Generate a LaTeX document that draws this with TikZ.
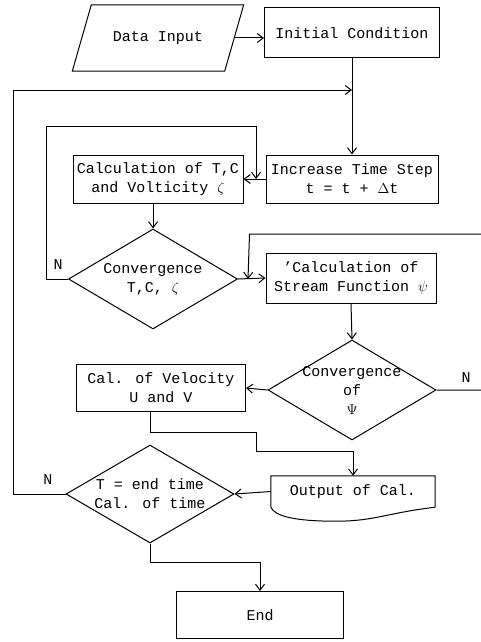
\documentclass[tikz,border=0pt]{standalone}
\usepackage{fontspec}
\setmainfont{Liberation Mono}
\usetikzlibrary{shapes.geometric,arrows.meta}
\tikzset{
    flow/.style={line width=1pt},
    arr/.style={flow, -{Straight Barb[length=6pt,width=9pt]}},
    box/.style={draw, flow, rectangle, align=center, inner sep=0pt,
        minimum width=#1, minimum height=48pt},
    box/.default=170pt,
    dia/.style={draw, flow, diamond, inner sep=0pt,
        minimum width=168pt, minimum height=#1},
    dia/.default=100pt,
}

\begin{document}
\begin{tikzpicture}[x=1pt, y=-1pt, font=\fontsize{15}{19}\selectfont]
    \useasboundingbox (0,0) rectangle (481,642);

    % input and start
    \node[rectangle, minimum width=171pt, minimum height=66pt, inner sep=0pt] (dat) at (158,38) {Data Input};
    \draw[flow] (dat.south west) -- ([xshift=19pt]dat.north west) -- (dat.north east)
        -- ([xshift=-19pt]dat.south east) -- cycle;
    \node[box=175pt, minimum height=50pt] (ic) at (352,33) {Initial Condition};
    \node[box=172pt] (its) at (352,179) {Increase Time Step\\t = t + $\Delta$t};
    \node[box] (calc) at (158,179) {Calculation of T,C\\and Volticity $\zeta$};

    % convergence of T,C and zeta
    \node[dia=100pt, minimum width=169pt,
        label={[align=center]center:Convergence\\T,C, $\zeta$}] (d1) at (153,279) {};
    \node[box, minimum height=50pt] (sf) at (351,278) {'Calculation of\\Stream Function $\psi$};

    % convergence of psi
    \node[dia, label={[align=center]center:Convergence\\of\\$\Psi$}] (d2) at (352,390) {};
    \node[box=169pt, minimum height=47pt] (vel) at (161,388) {Cal. of Velocity\\U and V};

    % output
    \node[rectangle, minimum width=164pt, minimum height=31pt, inner sep=0pt] (out) at (353,491.5) {Output of Cal.};
    \draw[flow] (out.south east) -- (out.north east) -- (out.north west) -- (out.south west)
        .. controls +(4,9) and +(-40,0) .. ([xshift=-100pt,yshift=-14pt]out.south east)
        .. controls +(40,0) and +(-50,6) .. (out.south east);
    \node[dia=98pt, label={[align=center]center:T = end time\\Cal. of time}] (d3) at (150,494) {};
    \node[box=167pt, minimum height=47pt] (end) at (260,615) {End};

    % N labels
    \node (n1) at (58,265) {N};
    \node (n2) at (466,378) {N};
    \node (n3) at (48,480) {N};

    % joints on the main lines
    \coordinate (j1) at (352,90);
    \coordinate (j2) at (256,179);
    \coordinate (j3) at (248,279);

    % connectors
    \draw[arr] ([xshift=-9pt]dat.east) -- (dat.east -| ic.west);
    \draw[arr] (ic.south) -- (its.north);
    \draw[arr] (its.west) -- (calc.east);
    \draw[arr] (calc.south -| d1.north) -- (d1.north);
    \draw[arr] (d1.east) -- (sf.west);
    \draw[arr] (sf.south) -- (d2.north);
    \draw[arr] (d2.west) -- (vel.east);
    \draw[arr] ([xshift=-11pt]vel.south) -- ++(0,20) -| ++(106,19) -| (out.north);
    \draw[arr] (out.west) -- (d3.east);
    \draw[arr] (d3.south) -- ++(0,19) -| (end.north);

    % loops back
    \draw[arr] (d1.west) -- ++(-22,0) |- ++(210,-153) -- (j2);
    \draw[arr] (d2.east) -- ++(48,0) |- ++(-235,-156) -- (j3);
    \draw[arr] (d3.west) -- ++(-52,0) |- (j1);
\end{tikzpicture}
\end{document}
